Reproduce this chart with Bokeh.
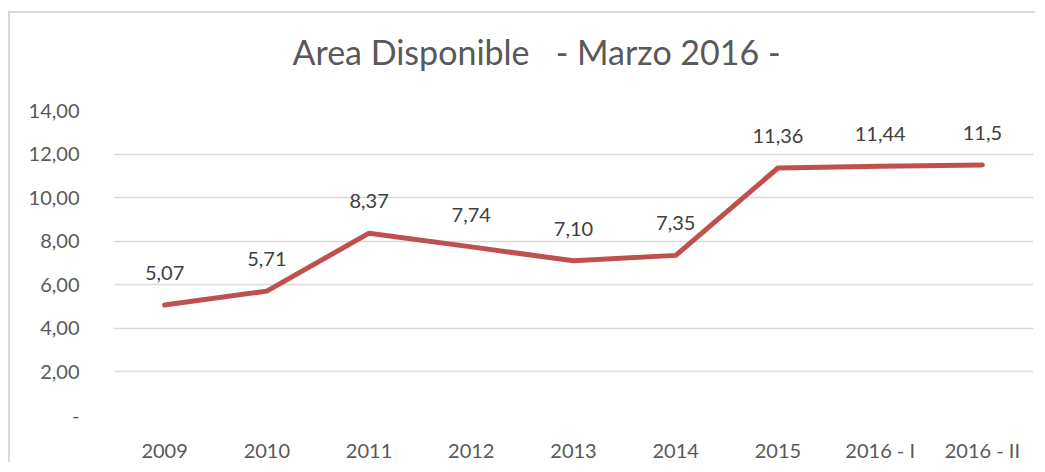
from bokeh.plotting import figure
from bokeh.models import ColumnDataSource, FactorRange, Range1d, FixedTicker, Title
from bokeh.core.properties import value
from bokeh.embed import file_html
from bokeh.resources import INLINE

categories = ["2009", "2010", "2011", "2012", "2013", "2014", "2015", "2016 - I", "2016 - II"]
values = [5.07, 5.71, 8.37, 7.74, 7.10, 7.35, 11.36, 11.44, 11.5]
value_labels = ["5,07", "5,71", "8,37", "7,74", "7,10", "7,35", "11,36", "11,44", "11,5"]
y_ticks = [0, 2, 4, 6, 8, 10, 12, 14]
y_tick_labels = ["-", "2,00", "4,00", "6,00", "8,00", "10,00", "12,00", "14,00"]
title_text = "Area Disponible\u00a0\u00a0\u00a0- Marzo 2016 -"

FONT = "Lato"
GREY = "#595959"

src = ColumnDataSource(dict(x=categories, y=values, t=value_labels))

p = figure(width=1027, height=451, x_range=FactorRange(*categories), y_range=Range1d(0, 14),
           output_backend="svg", toolbar_location=None,
           min_border_left=103, min_border_right=4, min_border_top=97, min_border_bottom=48)
p.styles = {"border-top": "2px solid #d9d9d9", "border-left": "2px solid #d9d9d9",
            "margin-top": "11px", "margin-left": "8px"}
p.outline_line_color = None
p.background_fill_color = "white"
p.border_fill_color = "white"

p.xgrid.grid_line_color = None
p.ygrid.grid_line_color = "#d9d9d9"
p.ygrid.grid_line_width = 1.5

p.yaxis.ticker = FixedTicker(ticks=y_ticks)
p.yaxis.major_label_overrides = {t: l for t, l in zip(y_ticks, y_tick_labels)}
for ax in (p.xaxis, p.yaxis):
    ax.axis_line_color = None
    ax.major_tick_line_color = None
    ax.minor_tick_line_color = None
    ax.major_label_text_font = FONT
    ax.major_label_text_font_size = "20px"
    ax.major_label_text_color = GREY
p.yaxis.major_label_standoff = 28
p.xaxis.major_label_standoff = 16

p.line("x", "y", source=src, line_color="#C0504D", line_width=5,
       line_join="round", line_cap="round")
p.text("x", "y", text="t", source=src, text_font=value(FONT), text_font_size="20px",
       text_color="#404040", text_align="center", text_baseline="middle", y_offset=-32)

# spacer between frame and title
p.add_layout(Title(text="\u00a0", text_font_size="1px", standoff=36), "above")
p.add_layout(Title(text=title_text, text_font=FONT, text_font_size="34px",
                   text_color=GREY, text_font_style="normal", align="left",
                   offset=179, standoff=0), "above")

open("out.html", "w").write(file_html(p, INLINE))
